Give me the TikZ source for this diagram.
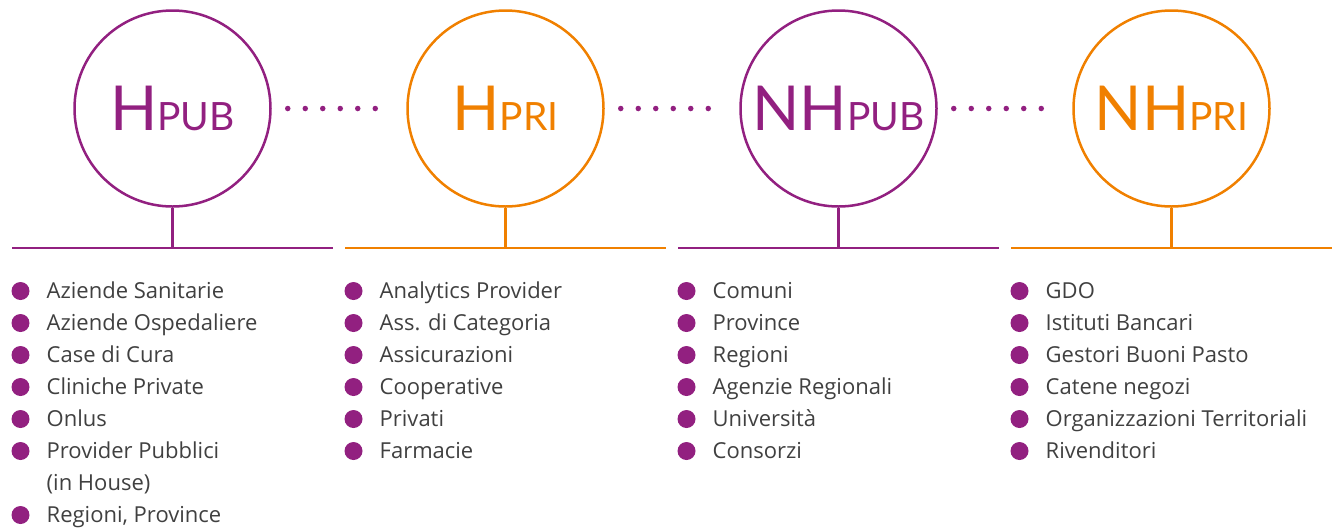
\documentclass[tikz,border=0pt]{standalone}
\usepackage{fontspec}
\setmainfont{Lato}
\newfontfamily\elenco{Open Sans}
\usetikzlibrary{positioning}
\definecolor{viola}{RGB}{146,32,128}
\definecolor{arancio}{RGB}{240,128,0}
\definecolor{testo}{RGB}{64,64,64}
\tikzset{
	cerchio/.style={circle, draw=#1, line width=2.5pt, minimum size=196pt, inner sep=0, text=#1},
	linea/.style={draw=#1, line width=2.5pt},
	puntini/.style={draw=viola, line width=5.5pt, line cap=round, dash pattern=on 0pt off 17.5pt},
	pallino/.style={circle, fill=viola, minimum size=18pt, inner sep=0, outer sep=0},
	voce/.style={inner sep=0, text height=18pt, text depth=4pt, text=testo, font=\elenco\fontsize{22}{26}\selectfont},
}
\newcommand{\sigla}[2]{\raisebox{-3pt}{\fontsize{62}{62}\selectfont #1\fontsize{39}{39}\selectfont #2}}
\begin{document}
\begin{tikzpicture}[x=1pt, y=-1pt]
	\useasboundingbox (0,0) rectangle (1338,531);
	% cerchi
	\node[cerchio=viola] (hpub) at (172.5,108.5) {\sigla{H}{PUB}};
	\node[cerchio=arancio] (hpri) at (505.5,108.5) {\sigla{H}{PRI}};
	\node[cerchio=viola] (nhpub) at (838.5,108.5) {\sigla{NH}{PUB}};
	\node[cerchio=arancio] (nhpri) at (1171.5,108.5) {\sigla{NH}{PRI}};
	% puntini tra i cerchi
	\draw[puntini] ([xshift=16pt]hpub.east) -- ([xshift=-14pt]hpri.west);
	\draw[puntini] ([xshift=16pt]hpri.east) -- ([xshift=-14pt]nhpub.west);
	\draw[puntini] ([xshift=16pt]nhpub.east) -- ([xshift=-14pt]nhpri.west);
	% linee orizzontali
	\coordinate (hpub-a) at (12,248);   \coordinate (hpub-b) at (333,248);
	\coordinate (hpri-a) at (345,248);  \coordinate (hpri-b) at (666,248);
	\coordinate (nhpub-a) at (678,248); \coordinate (nhpub-b) at (999,248);
	\coordinate (nhpri-a) at (1011,248);\coordinate (nhpri-b) at (1332,248);
	\foreach \c/\col in {hpub/viola, hpri/arancio, nhpub/viola, nhpri/arancio}{
		\draw[linea=\col] (\c-a) -- (\c-b);
		\draw[linea=\col] (\c.south) -- (\c.south |- \c-a);
	}
	% elenchi
	\foreach \t [count=\i] in {Aziende Sanitarie, Aziende Ospedaliere, Case di Cura, Cliniche Private, Onlus, Provider Pubblici}{
		\node[pallino] (p1-\i) at (20.5,{291+32*(\i-1)}) {};
		\node[voce, right=17pt of p1-\i] (v1-\i) {\t};
	}
	\node[voce, below=10pt of v1-6.south west, anchor=north west] (v1-7) {(in House)};
	\node[pallino] (p1-8) at (20.5,515) {};
	\node[voce, right=17pt of p1-8] (v1-8) {Regioni, Province};
	\foreach \t [count=\i] in {Analytics Provider, Ass. di Categoria, Assicurazioni, Cooperative, Privati, Farmacie}{
		\node[pallino] (p2-\i) at (353.5,{291+32*(\i-1)}) {};
		\node[voce, right=17pt of p2-\i] (v2-\i) {\t};
	}
	\foreach \t [count=\i] in {Comuni, Province, Regioni, Agenzie Regionali, Università, Consorzi}{
		\node[pallino] (p3-\i) at (686.5,{291+32*(\i-1)}) {};
		\node[voce, right=17pt of p3-\i] (v3-\i) {\t};
	}
	\foreach \t [count=\i] in {GDO, Istituti Bancari, Gestori Buoni Pasto, Catene negozi, Organizzazioni Territoriali, Rivenditori}{
		\node[pallino] (p4-\i) at (1019.5,{291+32*(\i-1)}) {};
		\node[voce, right=17pt of p4-\i] (v4-\i) {\t};
	}
\end{tikzpicture}
\end{document}
